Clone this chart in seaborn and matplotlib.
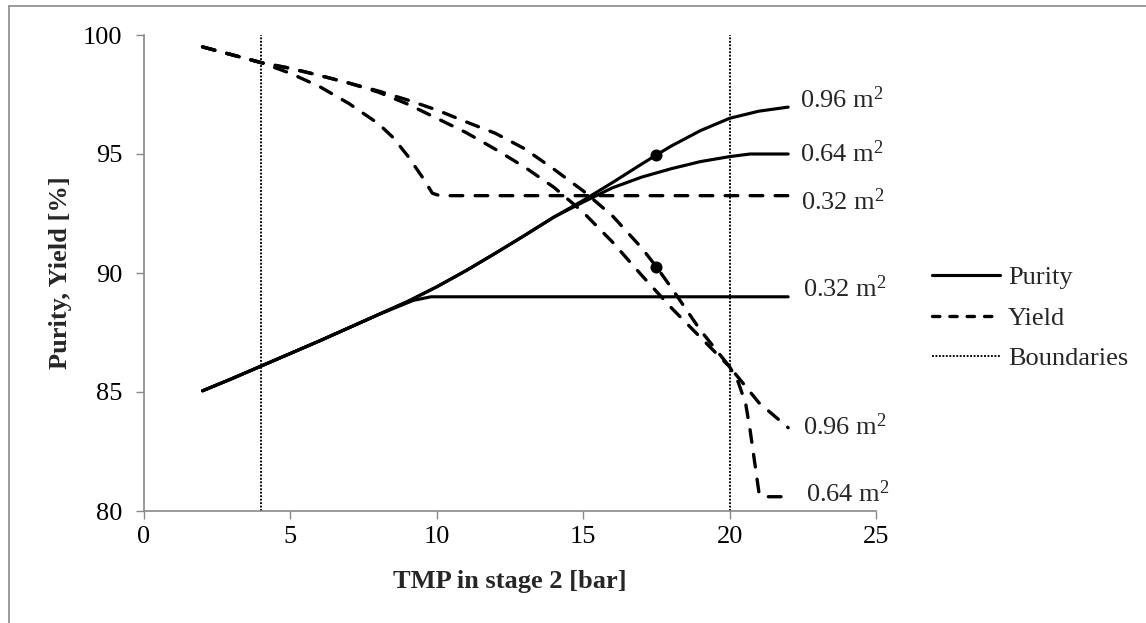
import matplotlib
matplotlib.use("Agg")
import matplotlib.pyplot as plt
from matplotlib.lines import Line2D
import pandas as pd
import seaborn as sns

# TMP in stage 2 [bar] and the resulting purity / yield [%] for three membrane areas
purity_032_x = [2, 3, 4, 5, 6, 7, 8, 8.5, 9.2, 9.8, 22]
purity_032_y = [85.05, 85.56, 86.09, 86.62, 87.15, 87.7, 88.25, 88.5, 88.85, 89.0, 89.0]

purity_064_x = [2, 3, 4, 5, 6, 7, 8, 9, 10, 11, 12, 13, 14, 15, 16, 17, 18, 19, 20, 20.7, 22]
purity_064_y = [85.05, 85.56, 86.09, 86.62, 87.15, 87.7, 88.25, 88.8, 89.42, 90.1, 90.83,
                91.58, 92.35, 92.98, 93.58, 94.03, 94.38, 94.68, 94.89, 95.0, 95.0]

purity_096_x = [2, 3, 4, 5, 6, 7, 8, 9, 10, 11, 12, 13, 14, 15, 16, 17, 17.5, 18, 19, 20, 21, 22]
purity_096_y = [85.05, 85.56, 86.09, 86.62, 87.15, 87.7, 88.25, 88.8, 89.42, 90.1, 90.83,
                91.58, 92.35, 93.05, 93.8, 94.58, 94.96, 95.33, 95.98, 96.5, 96.8, 96.97]

yield_032_x = [2, 3, 4, 5, 6, 7, 8, 8.5, 9, 9.5, 9.85, 10.1, 22]
yield_032_y = [99.5, 99.17, 98.84, 98.39, 97.83, 97.12, 96.28, 95.7, 94.93, 94.04, 93.35, 93.25, 93.25]

yield_064_x = [2, 3, 4, 5, 6, 7, 8, 9, 10, 11, 12, 13, 14, 15, 16, 17, 18, 19, 20,
               20.3, 20.55, 20.7, 20.85, 21.0, 21.1, 22]
yield_064_y = [99.5, 99.17, 98.84, 98.6, 98.3, 97.98, 97.6, 97.1, 96.5, 95.9, 95.2, 94.45,
               93.6, 92.55, 91.3, 89.9, 88.55, 87.3, 86.06, 85.4, 84.5, 83.4, 82.1, 80.8, 80.6, 80.6]

yield_096_x = [2, 3, 4, 5, 6, 7, 8, 9, 10, 11, 12, 13, 14, 15, 16, 17, 17.5, 18, 19, 20, 21, 22]
yield_096_y = [99.5, 99.17, 98.84, 98.6, 98.3, 97.98, 97.65, 97.27, 96.85, 96.35, 95.87, 95.22,
               94.36, 93.45, 92.4, 91.05, 90.26, 89.4, 87.6, 86.06, 84.55, 83.5]

# highlighted operating point (0.96 m2 at 17.5 bar)
point_x = [17.5, 17.5]
point_y = [94.96, 90.26]

boundaries = [4, 20]

area_labels = ["0.96 m$^{2}$", "0.64 m$^{2}$", "0.32 m$^{2}$",
               "0.32 m$^{2}$", "0.96 m$^{2}$", "0.64 m$^{2}$"]
area_label_x = [22.4, 22.4, 22.45, 22.5, 22.5, 22.62]
area_label_y = [97.27, 95.03, 93.0, 89.36, 83.54, 80.74]

x_ticks = [0, 5, 10, 15, 20, 25]
y_ticks = [80, 85, 90, 95, 100]

sns.set_theme(style="white")
plt.rcParams["font.family"] = ["Liberation Serif", "DejaVu Serif"]
plt.rcParams["mathtext.fontset"] = "custom"
plt.rcParams["mathtext.rm"] = "Liberation Serif"
plt.rcParams["mathtext.it"] = "Liberation Serif:italic"
plt.rcParams["mathtext.bf"] = "Liberation Serif:bold"

FS = 19
GRAY = "#898989"
SOLID_LW = 2.25
DASH_LW = 2.4
DASH = (0, (3.8, 3.7))
DOT = (0, (1.0, 0.85))
DOT_LW = 1.35

fig = plt.figure(figsize=(11.46, 6.23), dpi=100)
ax = fig.add_axes([144 / 1146, 1 - 511 / 623, 732 / 1146, 476 / 623])

purity = [(purity_032_x, purity_032_y), (purity_064_x, purity_064_y), (purity_096_x, purity_096_y)]
yields = [(yield_032_x, yield_032_y), (yield_064_x, yield_064_y), (yield_096_x, yield_096_y)]

for xs, ys in purity:
    df = pd.DataFrame({"tmp": xs, "value": ys})
    sns.lineplot(data=df, x="tmp", y="value", ax=ax, color="black", lw=SOLID_LW,
                 sort=False, estimator=None, solid_capstyle="round", solid_joinstyle="round")

for xs, ys in yields:
    df = pd.DataFrame({"tmp": xs, "value": ys})
    sns.lineplot(data=df, x="tmp", y="value", ax=ax, color="black", lw=DASH_LW,
                 linestyle=DASH, sort=False, estimator=None,
                 dash_capstyle="round", dash_joinstyle="round")

for b in boundaries:
    ax.axvline(b, color="black", lw=DOT_LW, linestyle=DOT)

sns.scatterplot(x=point_x, y=point_y, ax=ax, color="black", s=75, edgecolor="black",
                linewidth=0, zorder=5)

for txt, lx, ly in zip(area_labels, area_label_x, area_label_y):
    ax.text(lx, ly, txt, fontsize=FS, ha="left", va="center", clip_on=False)

ax.set_xlim(0, 25)
ax.set_ylim(80, 100)
ax.set_xticks(x_ticks)
ax.set_yticks(y_ticks)
ax.set_xticklabels([str(t) for t in x_ticks], fontsize=FS)
ax.set_yticklabels([str(t) for t in y_ticks], fontsize=FS)
ax.tick_params(axis="both", direction="out", length=5.5, width=1.0, color=GRAY,
               labelcolor="black", left=True, bottom=True)
ax.tick_params(axis="y", pad=10)
ax.tick_params(axis="x", pad=5.5)

for side in ["top", "right"]:
    ax.spines[side].set_visible(False)
for side in ["left", "bottom"]:
    ax.spines[side].set_color(GRAY)
    ax.spines[side].set_linewidth(1.2)

ax.set_xlabel("TMP in stage 2 [bar]", fontsize=FS, fontweight="bold")
ax.set_ylabel("Purity, Yield [%]", fontsize=FS, fontweight="bold")
ax.xaxis.set_label_coords(0.5, (511 - 581.7) / 476)
ax.xaxis.label.set_va("center")
ax.yaxis.set_label_coords((61 - 144) / 732, 0.5)
ax.yaxis.label.set_va("center")

handles = [
    Line2D([], [], color="black", lw=SOLID_LW),
    Line2D([], [], color="black", lw=DASH_LW, linestyle=(0, (2.2, 3.0)), dash_capstyle="round"),
    Line2D([], [], color="black", lw=DOT_LW, linestyle=DOT),
]
fig.legend(handles, ["Purity", "Yield", "Boundaries"], loc="center left",
           bbox_to_anchor=(932 / 1146, 1 - 318 / 623), frameon=False, borderpad=0,
           borderaxespad=0, handlelength=2.58, handletextpad=0.3, labelspacing=0.64,
           fontsize=FS)

# outer chart frame
fig.add_artist(Line2D([9 / 1146, 1.01], [1 - 6 / 623, 1 - 6 / 623],
                      transform=fig.transFigure, color=GRAY, lw=1.2))
fig.add_artist(Line2D([9 / 1146, 9 / 1146], [-0.01, 1 - 6 / 623],
                      transform=fig.transFigure, color=GRAY, lw=1.2))

fig.savefig("out.png", dpi=100)
